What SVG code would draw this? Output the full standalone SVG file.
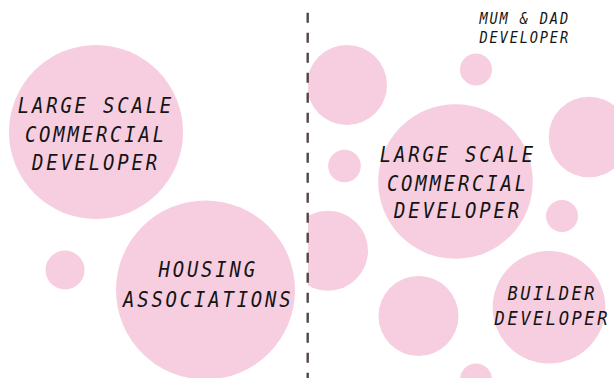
<svg xmlns="http://www.w3.org/2000/svg" width="614" height="378" viewBox="0 0 614 378">
  <style>
    .bubble { fill: #f7cde0; }
    .label { font-family: "DejaVu Sans Mono", "Liberation Mono", monospace; font-style: italic; fill: #141414; text-anchor: middle; }
    .big { font-size: 21.5px; letter-spacing: 3.2px; }
    .mid { font-size: 19.4px; letter-spacing: 2.9px; }
    .small { font-size: 15.5px; letter-spacing: 2.1px; }
    .divider { stroke: #514545; stroke-width: 2.4; stroke-dasharray: 10 10; fill: none; }
  </style>
  <defs>
    <clipPath id="rightSide">
      <rect x="308" y="0" width="306" height="378"/>
    </clipPath>
  </defs>
  <rect width="614" height="378" fill="#ffffff"/>

  <!-- left side: developer types -->
  <g id="left-large-scale-commercial">
    <circle class="bubble" cx="96" cy="132" r="87"/>
    <g transform="translate(94.5 0) scale(0.88 1)">
      <text class="label big" x="1.6" y="113.3">LARGE SCALE</text>
      <text class="label big" x="1.6" y="141.7">COMMERCIAL</text>
      <text class="label big" x="1.6" y="170">DEVELOPER</text>
    </g>
  </g>
  <g id="left-small-bubble">
    <circle class="bubble" cx="65" cy="270" r="19.5"/>
  </g>
  <g id="housing-associations">
    <circle class="bubble" cx="205.5" cy="290" r="89.5"/>
    <g transform="translate(206.8 0) scale(0.88 1)">
      <text class="label big" x="1.6" y="277.3">HOUSING</text>
      <text class="label big" x="1.6" y="306.7">ASSOCIATIONS</text>
    </g>
  </g>

  <!-- right side: many smaller developers -->
  <g clip-path="url(#rightSide)">
    <g id="right-bubble-top-left"><circle class="bubble" cx="347" cy="85" r="40"/></g>
    <g id="mum-and-dad-bubble"><circle class="bubble" cx="476" cy="69.5" r="16"/></g>
    <g id="right-bubble-edge"><circle class="bubble" cx="589" cy="137" r="40.3"/></g>
    <g id="right-bubble-small-left"><circle class="bubble" cx="344.5" cy="166" r="16.3"/></g>
    <g id="right-large-scale-commercial">
      <circle class="bubble" cx="455.5" cy="181.5" r="77.3"/>
      <g transform="translate(456.5 0) scale(0.88 1)">
        <text class="label big" x="1.6" y="162.3">LARGE SCALE</text>
        <text class="label big" x="1.6" y="190.7">COMMERCIAL</text>
        <text class="label big" x="1.6" y="218.3">DEVELOPER</text>
      </g>
    </g>
    <g id="right-bubble-small-right"><circle class="bubble" cx="562" cy="216" r="16"/></g>
    <g id="right-bubble-mid-left"><circle class="bubble" cx="328" cy="250.7" r="40"/></g>
    <g id="right-bubble-bottom"><circle class="bubble" cx="418.5" cy="316" r="40"/></g>
    <g id="builder-developer">
      <circle class="bubble" cx="549" cy="307.3" r="56.3"/>
      <g transform="translate(551 0) scale(0.88 1)">
        <text class="label mid" x="1.45" y="300">BUILDER</text>
        <text class="label mid" x="1.45" y="325">DEVELOPER</text>
      </g>
    </g>
    <g id="right-bubble-bottom-small"><circle class="bubble" cx="476" cy="379.5" r="16"/></g>
  </g>

  <g id="mum-and-dad-label">
    <g transform="translate(523.8 0) scale(0.88 1)">
      <text class="label small" x="1.05" y="24">MUM &amp; DAD</text>
      <text class="label small" x="1.05" y="43.3">DEVELOPER</text>
    </g>
  </g>

  <!-- divider between the two sides -->
  <g id="connectors">
    <line class="divider" x1="307.7" y1="12.7" x2="307.7" y2="378"/>
  </g>
</svg>
